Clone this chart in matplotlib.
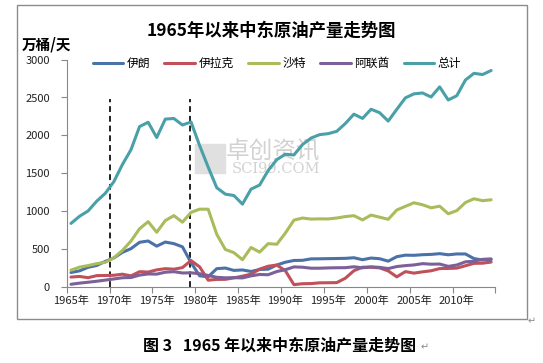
import matplotlib
matplotlib.use("Agg")
import matplotlib.pyplot as plt
from matplotlib.patches import Rectangle

plt.rcParams['font.family'] = ['Noto Sans CJK SC', 'DejaVu Sans']

# 数据 (万桶/天), 1965-2014
years = list(range(1965, 2015))
iran = [191, 213, 260, 284, 338, 383, 457, 506, 590, 607, 539, 593, 572, 530, 322, 148,
        134, 242, 250, 219, 225, 205, 231, 235, 290, 327, 350, 352, 371, 372, 374, 376,
        378, 386, 360, 382, 373, 341, 400, 420, 418, 426, 430, 440, 425, 436, 436, 375,
        356, 361]
iraq = [131, 139, 123, 150, 152, 155, 169, 147, 202, 197, 226, 242, 235, 256, 349, 266,
        90, 100, 101, 121, 143, 169, 236, 274, 290, 215, 31, 43, 45, 55, 56, 58,
        116, 215, 261, 261, 252, 212, 134, 203, 183, 200, 214, 243, 245, 249, 280, 312,
        314, 329]
saudi = [222, 262, 283, 308, 326, 385, 482, 607, 769, 862, 722, 876, 942, 855, 984, 1027,
         1026, 696, 495, 453, 360, 521, 460, 572, 564, 711, 882, 910, 896, 899, 898, 910,
         929, 941, 885, 949, 921, 893, 1016, 1064, 1111, 1085, 1045, 1066, 966, 1008, 1114, 1164,
         1139, 1151]
uae = [36, 51, 63, 76, 91, 106, 122, 125, 157, 172, 170, 195, 202, 185, 187, 175,
       152, 128, 121, 123, 120, 147, 165, 162, 204, 228, 265, 261, 248, 248, 252, 254,
       255, 267, 253, 266, 259, 243, 270, 282, 291, 308, 301, 303, 272, 290, 332, 340,
       365, 371]
total = [839, 933, 1004, 1132, 1236, 1390, 1616, 1812, 2117, 2173, 1972, 2215, 2223, 2137, 2177, 1867,
         1582, 1310, 1225, 1207, 1093, 1291, 1345, 1537, 1680, 1751, 1742, 1879, 1965, 2010, 2023, 2054,
         2157, 2280, 2224, 2345, 2299, 2189, 2344, 2495, 2548, 2560, 2507, 2640, 2467, 2524, 2730, 2819,
         2803, 2856]

names = ['伊朗', '伊拉克', '沙特', '阿联酋', '总计']
colors = ['#4a72a8', '#c0505a', '#a9bc5c', '#7b6198', '#4aa0a8']
series = [iran, iraq, saudi, uae, total]
events = [1969.55, 1978.9]
tick_years = list(range(1965, 2015, 5))

fig = plt.figure(figsize=(5.43, 3.63), dpi=100)
fig.patches.append(Rectangle((17 / 543, 1 - 319 / 363), 510 / 543, 314 / 363,
                             transform=fig.transFigure, fill=False,
                             edgecolor='#8c8c8c', linewidth=1.0))

ax = fig.add_axes([66.7 / 543, 1 - 287 / 363, 428.7 / 543, 227.4 / 363])

# 水印
ax.text(0.372, 0.595, '卓创资讯', transform=ax.transAxes, fontsize=17,
        color='#d2d2d2', ha='left', va='center', zorder=0)
ax.text(0.385, 0.52, 'SCI99.COM', transform=ax.transAxes, fontsize=10.5,
        family='DejaVu Serif', color='#d2d2d2', ha='left', va='center', zorder=0)
ax.add_patch(Rectangle((0.3, 0.5), 0.07, 0.13, transform=ax.transAxes,
                       color='#e0e0e0', zorder=0))

for x in events:
    ax.plot([x, x], [0, 2480], color='#222222', lw=1.4, ls=(0, (3, 2)), zorder=1)

for name, c, s in zip(names, colors, series):
    ax.plot(years, s, color=c, lw=2.2, label=name, solid_joinstyle='round',
            solid_capstyle='round', zorder=2)

ax.set_xlim(1964.5, 2014.5)
ax.set_ylim(0, 3000)
ax.set_yticks(range(0, 3001, 500))
ax.set_xticks([y - 0.5 for y in tick_years] + [2014.5])
ax.set_xticklabels([])
ax.set_xticks(tick_years, minor=True)
ax.set_xticklabels([f'{y}年' for y in tick_years], minor=True)
ax.tick_params(axis='x', which='minor', length=0, pad=6, labelsize=8, labelcolor='#222222')
ax.tick_params(axis='x', which='major', length=4, color='#888888', direction='out')
ax.tick_params(axis='y', length=4, color='#888888', labelsize=8, labelcolor='#222222', pad=8)

for side in ['top', 'right']:
    ax.spines[side].set_visible(False)
for side in ['left', 'bottom']:
    ax.spines[side].set_color('#888888')

fig.legend(loc='center', bbox_to_anchor=(0.51, 1 - 63.4 / 363), ncol=5, frameon=False,
           fontsize=8.5, handlelength=2.6, columnspacing=1.2, handletextpad=0.3)

fig.text(271 / 543, 1 - 30.5 / 363, '1965年以来中东原油产量走势图', ha='center', va='center',
         fontsize=12.5, fontweight='bold')
fig.text(22 / 543, 1 - 45 / 363, '万桶/天', ha='left', va='center',
         fontsize=10.5, fontweight='bold')
fig.text(280 / 543, 1 - 346 / 363, '图 3   1965 年以来中东原油产量走势图', ha='center',
         va='center', fontsize=11.5, fontweight='bold')
fig.text(425 / 543, 1 - 347 / 363, '↵', ha='center', va='center', fontsize=7,
         color='#888888', family='DejaVu Sans')
fig.text(532 / 543, 1 - 321 / 363, '↵', ha='center', va='center', fontsize=7,
         color='#888888', family='DejaVu Sans')

fig.savefig('out.png', dpi=100)
